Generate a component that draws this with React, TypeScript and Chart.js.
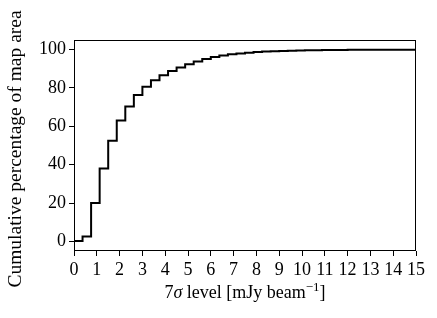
import React, { useEffect, useRef } from "react";
import { Chart, registerables } from "chart.js";

Chart.register(...registerables);

const binEdges = [
  0, 0.375, 0.75, 1.125, 1.5, 1.875, 2.25, 2.625, 3.0, 3.375,
  3.75, 4.125, 4.5, 4.875, 5.25, 5.625, 6.0, 6.375, 6.75, 7.125,
  7.5, 7.875, 8.25, 8.625, 9.0, 9.375, 9.75, 10.125, 10.5, 10.875,
  11.25, 11.625, 12.0, 12.375, 12.75, 13.125, 13.5, 13.875, 14.25, 14.625,
  15.0,
];
const cumulativePercent = [
  0.2, 2.6, 20.0, 38.0, 52.5, 63.0, 70.3, 76.3, 80.6, 84.0,
  86.6, 88.8, 90.7, 92.4, 93.8, 95.1, 96.1, 96.9, 97.6, 98.0,
  98.4, 98.7, 98.95, 99.15, 99.3, 99.45, 99.55, 99.65, 99.7, 99.75,
  99.8, 99.83, 99.86, 99.88, 99.9, 99.92, 99.93, 99.95, 99.96, 99.97,
  99.97,
];
const xTicks = [0, 1, 2, 3, 4, 5, 6, 7, 8, 9, 10, 11, 12, 13, 14, 15];
const yTicks = [0, 20, 40, 60, 80, 100];

const FONT = "'Liberation Serif', 'DejaVu Serif', serif";

const framePlugin = {
  id: "frameAndTitles",
  afterDraw(chart: any) {
    const { ctx, chartArea } = chart;
    ctx.save();
    ctx.strokeStyle = "#000";
    ctx.lineWidth = 1;
    ctx.strokeRect(
      Math.round(chartArea.left) + 0.5,
      Math.round(chartArea.top) + 0.5,
      Math.round(chartArea.right - chartArea.left) - 1,
      Math.round(chartArea.bottom - chartArea.top) - 1
    );
    // x title with mixed fonts
    const parts: { t: string; f: string; dy: number }[] = [
      { t: "7", f: `18px ${FONT}`, dy: 0 },
      { t: "σ", f: `italic 18px ${FONT}`, dy: 0 },
      { t: " level [mJy beam", f: `18px ${FONT}`, dy: 0 },
      { t: "−1", f: `13px ${FONT}`, dy: -7 },
      { t: "]", f: `18px ${FONT}`, dy: 0 },
    ];
    let total = 0;
    for (const p of parts) {
      ctx.font = p.f;
      total += ctx.measureText(p.t).width;
    }
    const cx = (chartArea.left + chartArea.right) / 2;
    let x = cx - total / 2;
    const y = 298;
    ctx.fillStyle = "#000";
    ctx.textBaseline = "alphabetic";
    ctx.textAlign = "left";
    for (const p of parts) {
      ctx.font = p.f;
      ctx.fillText(p.t, x, y + p.dy);
      x += ctx.measureText(p.t).width;
    }
    // y title
    ctx.translate(16, 149);
    ctx.rotate(-Math.PI / 2);
    ctx.font = `19.5px ${FONT}`;
    ctx.textAlign = "center";
    ctx.textBaseline = "middle";
    ctx.fillText("Cumulative percentage of map area", 0, 0);
    ctx.restore();
  },
};

export default function App() {
  const ref = useRef<HTMLCanvasElement>(null);
  useEffect(() => {
    if (!ref.current) return;
    const chart = new Chart(ref.current, {
      type: "line",
      data: {
        datasets: [
          {
            data: binEdges.map((x, i) => ({ x, y: cumulativePercent[i] })),
            borderColor: "#000",
            borderWidth: 2,
            pointRadius: 0,
            stepped: true,
            fill: false,
          },
        ],
      },
      options: {
        animation: false,
        responsive: false,
        maintainAspectRatio: false,
        layout: { padding: { top: 40, right: 21, left: 0, bottom: 0 } },
        plugins: { legend: { display: false }, tooltip: { enabled: false } },
        scales: {
          x: {
            type: "linear",
            min: 0,
            max: 15,
            afterFit: (s: any) => {
              s.height = 67;
            },
            afterBuildTicks: (s: any) => {
              s.ticks = xTicks.map((v) => ({ value: v }));
            },
            ticks: {
              color: "#000",
              font: { family: FONT, size: 18 },
              padding: 3,
              maxRotation: 0,
              autoSkip: false,
            },
            grid: {
              drawOnChartArea: false,
              color: "#000",
              tickLength: 5,
              tickWidth: 1,
            },
            border: { display: false },
          },
          y: {
            type: "linear",
            min: -5,
            max: 105,
            afterFit: (s: any) => {
              s.width = 74;
            },
            afterBuildTicks: (s: any) => {
              s.ticks = yTicks.map((v) => ({ value: v }));
            },
            ticks: {
              color: "#000",
              font: { family: FONT, size: 18 },
              padding: 3,
            },
            grid: {
              drawOnChartArea: false,
              color: "#000",
              tickLength: 5,
              tickWidth: 1,
            },
            border: { display: false },
          },
        },
      },
      plugins: [framePlugin],
    });
    return () => chart.destroy();
  }, []);
  return (
    <div style={{ position: "fixed", left: 0, top: 0, width: 437, height: 318, background: "#fff" }}>
      <canvas ref={ref} width={437} height={318} style={{ width: 437, height: 318 }} />
    </div>
  );
}
